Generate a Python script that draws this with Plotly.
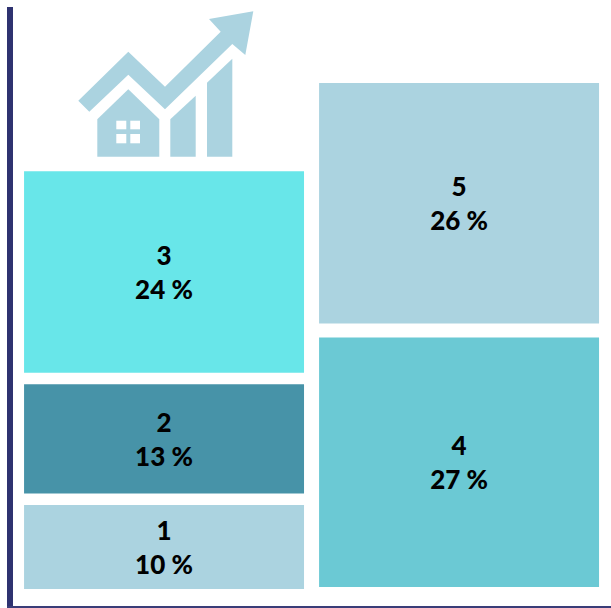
import plotly.graph_objects as go

WIDTH, HEIGHT = 611, 608
MARGIN = dict(l=13, r=0, t=7, b=2)

# Share of the total per category, one list per column, bottom to top
left_labels = ["1", "2", "3"]
left_values = [10, 13, 24]
left_colors = ["#ABD3E0", "#4793A8", "#68E6E9"]
right_labels = ["4", "5"]
right_values = [27, 26]
right_colors = ["#6BC9D4", "#ABD3E0"]
columns = ["left", "right"]

PLOT_H = HEIGHT - MARGIN["t"] - MARGIN["b"]
LEFT_PX_PER_UNIT = 8.4
RIGHT_PX_PER_UNIT = 9.245


def stacked_bases(values, foot_px, gap_px, px_per_unit):
    """Stack upward from a foot offset, leaving a white gap between tiles."""
    bases, cursor = [], foot_px / px_per_unit
    for v in values:
        bases.append(cursor)
        cursor += v + gap_px / px_per_unit
    return bases


def column_trace(col, labels, values, colors, bases, axis):
    return go.Bar(
        x=[col] * len(values),
        y=values,
        base=bases,
        width=0.949,
        yaxis=axis,
        marker=dict(color=colors, line_width=0),
        text=[f"{n}<br>{v} %" for n, v in zip(labels, values)],
        textposition="inside",
        insidetextanchor="middle",
        textangle=0,
        textfont=dict(family="Lato", size=26, color="black", weight=900),
        hoverinfo="skip",
        showlegend=False,
    )


fig = go.Figure()
fig.add_trace(column_trace(
    columns[0], left_labels, left_values, left_colors,
    stacked_bases(left_values, 17, 11.5, LEFT_PX_PER_UNIT), "y"))
fig.add_trace(column_trace(
    columns[1], right_labels, right_values, right_colors,
    stacked_bases(right_values, 19, 14, RIGHT_PX_PER_UNIT), "y2"))


# Logo: house with a rising arrow, sketched in page pixels
def px(x, y):
    fx = (x - MARGIN["l"]) / (WIDTH - MARGIN["l"] - MARGIN["r"])
    fy = 1 - (y - MARGIN["t"]) / PLOT_H
    return fx, fy


def poly(points, color):
    coords = [px(*p) for p in points]
    path = "M " + " L ".join(f"{a:.5f},{b:.5f}" for a, b in coords) + " Z"
    return dict(type="path", xref="paper", yref="paper", path=path,
                fillcolor=color, line_width=0, layer="above")


LOGO = "#ABD3E0"
shapes = [
    poly([(78.3, 100.7), (128.3, 51.7), (165, 86.7), (220.7, 31.7), (209, 19),
          (253.3, 11.3), (245.3, 55), (232.3, 44), (165, 109.3), (128.3, 74.7),
          (89.3, 111.7)], LOGO),
    poly([(97.3, 119.3), (128.3, 89.3), (159.3, 119.3), (159.3, 156.7), (97.3, 156.7)], LOGO),
    poly([(170.3, 119.3), (195.7, 95.7), (195.7, 156.7), (170.3, 156.7)], LOGO),
    poly([(207, 82.7), (232.3, 58.7), (232.3, 156.7), (207, 156.7)], LOGO),
]
for x0, x1 in [(116.3, 126.3), (130.3, 140)]:
    for y0, y1 in [(120.7, 129.3), (134, 143.3)]:
        shapes.append(poly([(x0, y0), (x1, y0), (x1, y1), (x0, y1)], "white"))

fig.update_layout(
    width=WIDTH,
    height=HEIGHT,
    margin=MARGIN,
    paper_bgcolor="white",
    plot_bgcolor="white",
    barmode="overlay",
    shapes=shapes,
    xaxis=dict(
        type="category", categoryorder="array", categoryarray=columns,
        range=[-0.512, 1.515], showticklabels=False, ticks="", showgrid=False,
        zeroline=False, showline=True, linecolor="#3A3D78", linewidth=2,
    ),
    yaxis=dict(
        range=[0, PLOT_H / LEFT_PX_PER_UNIT], showticklabels=False, ticks="",
        showgrid=False, zeroline=False, showline=True, linecolor="#2E3270", linewidth=6,
    ),
    yaxis2=dict(
        range=[0, PLOT_H / RIGHT_PX_PER_UNIT], overlaying="y", side="left",
        showticklabels=False, ticks="", showgrid=False, zeroline=False, showline=False,
    ),
)

fig.write_html("out.html", config=dict(displayModeBar=False))
